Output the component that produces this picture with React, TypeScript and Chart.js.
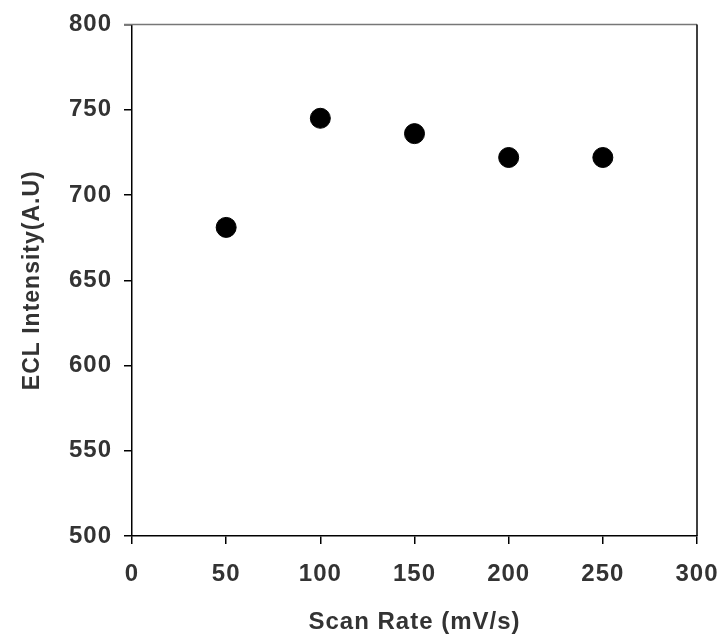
import React, { useEffect, useRef } from "react";
import { Chart, registerables } from "chart.js";

Chart.register(...registerables);

const scanRates = [50, 100, 150, 200, 250];
const eclIntensity = [681, 745, 736, 722, 722];
const xTitle = "Scan Rate (mV/s)";
const yTitle = "ECL Intensity(A.U)";

const textColor = "#333333";
const fontFamily = "'Liberation Sans', Arial, sans-serif";

const framePlugin = {
  id: "frame",
  beforeDraw(chart: any) {
    (chart.ctx as any).letterSpacing = "1px";
  },
  afterDraw(chart: any) {
    const { ctx, chartArea } = chart;
    ctx.save();
    ctx.strokeStyle = "#777777";
    ctx.lineWidth = 1.5;
    ctx.beginPath();
    ctx.moveTo(chartArea.left - 8, chartArea.top);
    ctx.lineTo(chartArea.right, chartArea.top);
    ctx.stroke();
    ctx.strokeStyle = "#000000";
    ctx.beginPath();
    ctx.moveTo(chartArea.right, chartArea.top);
    ctx.lineTo(chartArea.right, chartArea.bottom);
    ctx.stroke();
    ctx.restore();
  },
};

export default function App() {
  const ref = useRef<HTMLCanvasElement | null>(null);
  useEffect(() => {
    if (!ref.current) return;
    const chart = new Chart(ref.current, {
      type: "scatter",
      data: {
        datasets: [
          {
            data: scanRates.map((x, i) => ({ x, y: eclIntensity[i] })),
            backgroundColor: "#000000",
            borderColor: "#000000",
            pointRadius: 10,
            pointHoverRadius: 10,
          },
        ],
      },
      options: {
        responsive: false,
        animation: false,
        layout: { padding: { top: 24.5, right: 25, bottom: 0, left: 0 } },
        plugins: { legend: { display: false }, tooltip: { enabled: false } },
        scales: {
          x: {
            type: "linear",
            min: 0,
            max: 300,
            afterFit: (s: any) => {
              s.height = 106;
              s.paddingLeft = 0;
              s.paddingRight = 0;
            },
            ticks: {
              stepSize: 50,
              padding: 16,
              color: textColor,
              font: { family: fontFamily, size: 24, weight: "bold" },
            },
            grid: {
              drawOnChartArea: false,
              drawTicks: true,
              tickLength: 8,
              color: "#000000",
              lineWidth: 1.5,
            },
            border: { display: true, color: "#000000", width: 1.5 },
            title: {
              display: true,
              text: xTitle,
              color: textColor,
              font: { family: fontFamily, size: 24, weight: "bold" },
              padding: { top: 0, bottom: 5 },
            },
          },
          y: {
            type: "linear",
            min: 500,
            max: 800,
            afterFit: (s: any) => {
              s.width = 132;
              s.paddingTop = 0;
              s.paddingBottom = 0;
            },
            ticks: {
              stepSize: 50,
              padding: 12,
              color: textColor,
              font: { family: fontFamily, size: 24, weight: "bold" },
            },
            grid: {
              drawOnChartArea: false,
              drawTicks: true,
              tickLength: 8,
              color: "#000000",
              lineWidth: 1.5,
            },
            border: { display: true, color: "#000000", width: 1.5 },
            title: {
              display: true,
              text: yTitle,
              color: textColor,
              font: { family: fontFamily, size: 23, weight: "bold" },
              padding: { top: 19, bottom: 0 },
            },
          },
        },
      },
      plugins: [framePlugin],
    });
    return () => chart.destroy();
  }, []);
  return (
    <div style={{ position: "absolute", left: 0, top: 0, width: 722, height: 642, background: "#ffffff" }}>
      <canvas ref={ref} width={722} height={642} style={{ display: "block" }} />
    </div>
  );
}
